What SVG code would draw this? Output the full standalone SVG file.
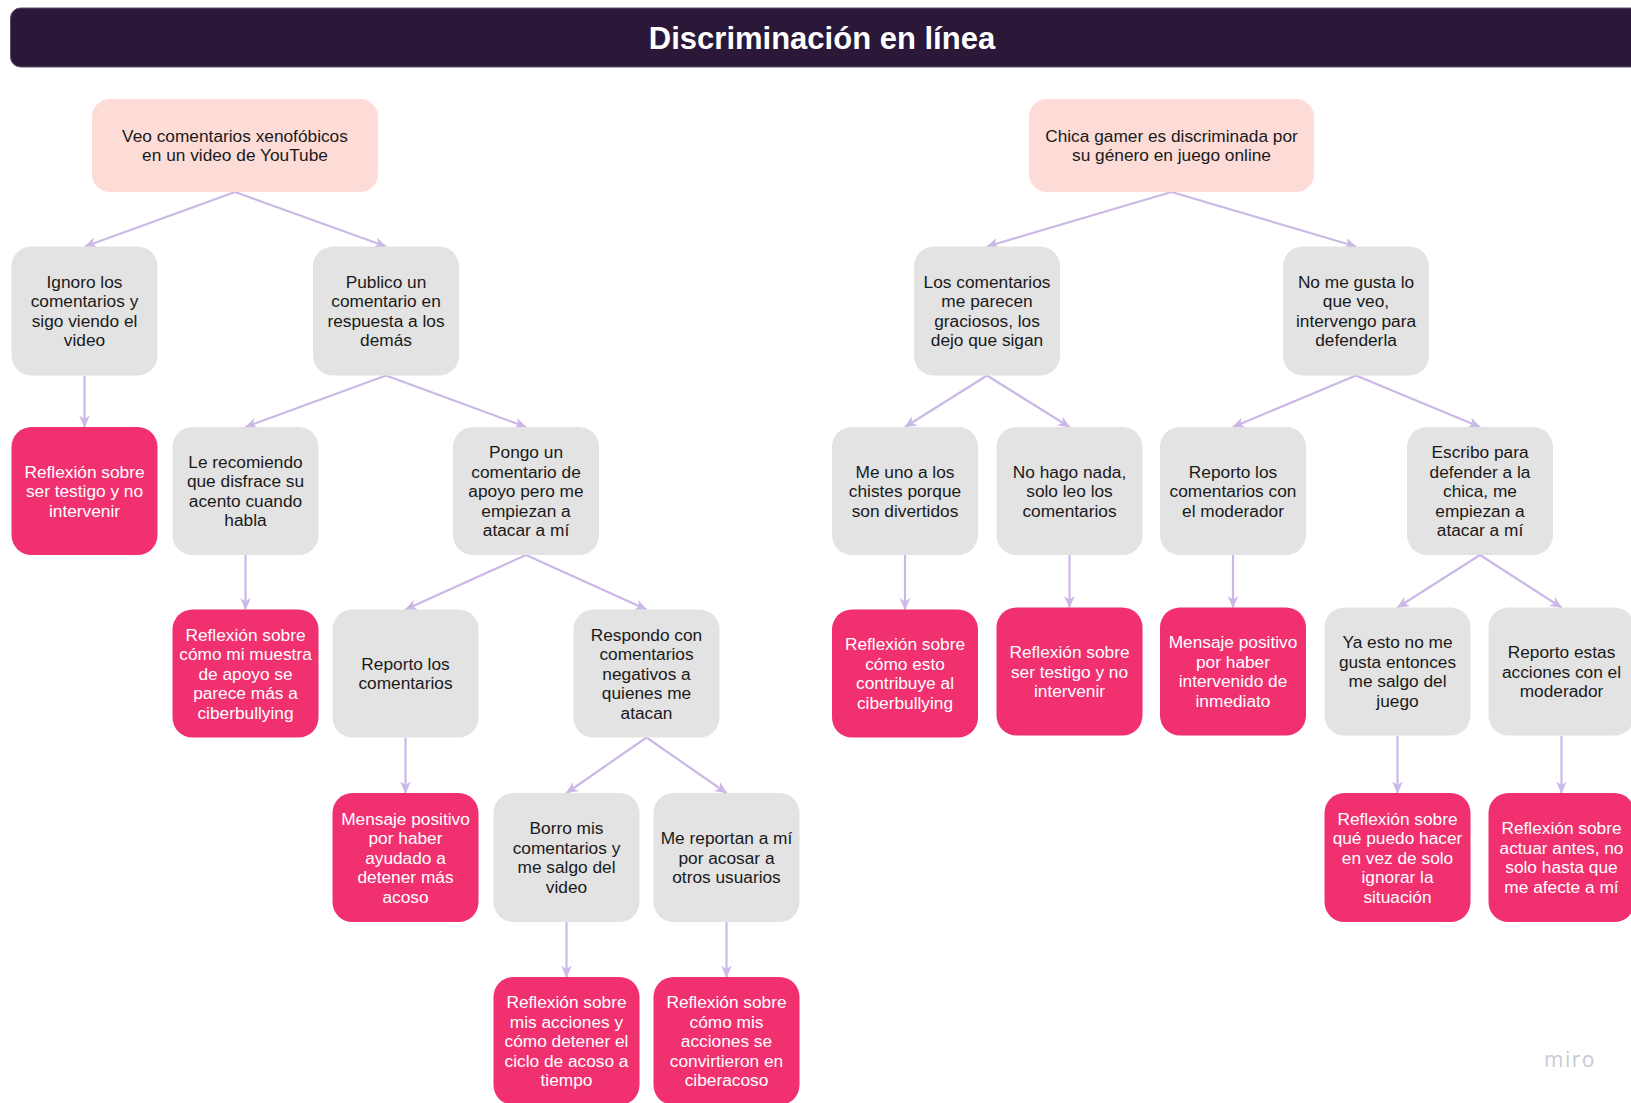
<svg xmlns="http://www.w3.org/2000/svg" width="1631" height="1103" viewBox="0 0 1631 1103">
  <style>
    .t { font-family: "Liberation Sans", Arial, Helvetica, sans-serif; font-size: 17.3px; text-anchor: middle; }
    .dark { fill: #1a1a1a; }
    .light { fill: #ffffff; }
    .root { fill: #fddcd8; }
    .opt { fill: #e3e3e3; }
    .out { fill: #f0306f; }
    .conn { stroke: #cbb8e6; stroke-width: 2.2; fill: none; marker-end: url(#arr); }
  </style>
  <defs>
    <marker id="arr" viewBox="0 0 10 10" refX="9.5" refY="5" markerWidth="12" markerHeight="12" markerUnits="userSpaceOnUse" orient="auto">
      <path d="M0,0.5 L10,5 L0,9.5 L2.8,5 z" fill="#cbb8e6"/>
    </marker>
  </defs>

  <rect width="1631" height="1103" fill="#ffffff"/>

  <!-- header bar -->
  <g id="title">
    <rect x="10.5" y="8" width="1630" height="59" rx="10" fill="#2b1839" stroke="#5e4d6e" stroke-width="1"/>
    <text x="822" y="49" font-family="'Liberation Sans', Arial, sans-serif" font-size="31" font-weight="bold" fill="#ffffff" text-anchor="middle">Discriminación en línea</text>
  </g>

  <!-- connectors -->
  <g id="connectors">
    <line class="conn" x1="235" y1="192" x2="85" y2="246.5"/>
    <line class="conn" x1="235" y1="192" x2="386" y2="246.5"/>
    <line class="conn" x1="1171.5" y1="192" x2="987" y2="246.5"/>
    <line class="conn" x1="1171.5" y1="192" x2="1356" y2="246.5"/>
    <line class="conn" x1="84.5" y1="375.5" x2="84.5" y2="427"/>
    <line class="conn" x1="386" y1="375.5" x2="245.5" y2="427"/>
    <line class="conn" x1="386" y1="375.5" x2="526" y2="427"/>
    <line class="conn" x1="987" y1="375.5" x2="905" y2="427"/>
    <line class="conn" x1="987" y1="375.5" x2="1069.5" y2="427"/>
    <line class="conn" x1="1356" y1="375.5" x2="1233" y2="427"/>
    <line class="conn" x1="1356" y1="375.5" x2="1480" y2="427"/>
    <line class="conn" x1="245.5" y1="555" x2="245.5" y2="609.5"/>
    <line class="conn" x1="526" y1="555" x2="405.5" y2="609.5"/>
    <line class="conn" x1="526" y1="555" x2="646.5" y2="609.5"/>
    <line class="conn" x1="905" y1="555" x2="905" y2="609.5"/>
    <line class="conn" x1="1069.5" y1="555" x2="1069.5" y2="607.5"/>
    <line class="conn" x1="1233" y1="555" x2="1233" y2="607.5"/>
    <line class="conn" x1="1480" y1="555" x2="1397.5" y2="607.5"/>
    <line class="conn" x1="1480" y1="555" x2="1561.5" y2="607.5"/>
    <line class="conn" x1="405.5" y1="737.5" x2="405.5" y2="793"/>
    <line class="conn" x1="646.5" y1="737.5" x2="566.5" y2="793"/>
    <line class="conn" x1="646.5" y1="737.5" x2="726.5" y2="793"/>
    <line class="conn" x1="1397.5" y1="735.5" x2="1397.5" y2="793"/>
    <line class="conn" x1="1561.5" y1="735.5" x2="1561.5" y2="793"/>
    <line class="conn" x1="566.5" y1="922" x2="566.5" y2="977"/>
    <line class="conn" x1="726.5" y1="922" x2="726.5" y2="977"/>
  </g>

  <!-- starting situations -->
  <g id="n-xenofobia">
    <rect class="root" x="92" y="99" width="286" height="93" rx="18"/>
    <text class="t dark" x="235"><tspan x="235" y="141.8">Veo comentarios xenofóbicos</tspan><tspan x="235" y="161.3">en un video de YouTube</tspan></text>
  </g>
  <g id="n-chica-gamer">
    <rect class="root" x="1029" y="99" width="285" height="93" rx="18"/>
    <text class="t dark" x="1171.5"><tspan x="1171.5" y="141.8">Chica gamer es discriminada por</tspan><tspan x="1171.5" y="161.3">su género en juego online</tspan></text>
  </g>

  <!-- second level -->
  <g id="n-ignoro">
    <rect class="opt" x="11.5" y="246.5" width="146" height="129" rx="20"/>
    <text class="t dark"><tspan x="84.5" y="287.8">Ignoro los</tspan><tspan x="84.5" y="307.3">comentarios y</tspan><tspan x="84.5" y="326.8">sigo viendo el</tspan><tspan x="84.5" y="346.3">video</tspan></text>
  </g>
  <g id="n-publico">
    <rect class="opt" x="313" y="246.5" width="146" height="129" rx="20"/>
    <text class="t dark"><tspan x="386" y="287.8">Publico un</tspan><tspan x="386" y="307.3">comentario en</tspan><tspan x="386" y="326.8">respuesta a los</tspan><tspan x="386" y="346.3">demás</tspan></text>
  </g>
  <g id="n-graciosos">
    <rect class="opt" x="914" y="246.5" width="146" height="129" rx="20"/>
    <text class="t dark"><tspan x="987" y="287.8">Los comentarios</tspan><tspan x="987" y="307.3">me parecen</tspan><tspan x="987" y="326.8">graciosos, los</tspan><tspan x="987" y="346.3">dejo que sigan</tspan></text>
  </g>
  <g id="n-intervengo">
    <rect class="opt" x="1283" y="246.5" width="146" height="129" rx="20"/>
    <text class="t dark"><tspan x="1356" y="287.8">No me gusta lo</tspan><tspan x="1356" y="307.3">que veo,</tspan><tspan x="1356" y="326.8">intervengo para</tspan><tspan x="1356" y="346.3">defenderla</tspan></text>
  </g>

  <!-- third level -->
  <g id="n-reflexion-testigo-1">
    <rect class="out" x="11.5" y="427" width="146" height="128" rx="20"/>
    <text class="t light"><tspan x="84.5" y="477.5">Reflexión sobre</tspan><tspan x="84.5" y="497">ser testigo y no</tspan><tspan x="84.5" y="516.5">intervenir</tspan></text>
  </g>
  <g id="n-recomiendo">
    <rect class="opt" x="172.5" y="427" width="146" height="128" rx="20"/>
    <text class="t dark"><tspan x="245.5" y="467.8">Le recomiendo</tspan><tspan x="245.5" y="487.3">que disfrace su</tspan><tspan x="245.5" y="506.8">acento cuando</tspan><tspan x="245.5" y="526.3">habla</tspan></text>
  </g>
  <g id="n-pongo-apoyo">
    <rect class="opt" x="453" y="427" width="146" height="128" rx="20"/>
    <text class="t dark"><tspan x="526" y="458">Pongo un</tspan><tspan x="526" y="477.5">comentario de</tspan><tspan x="526" y="497">apoyo pero me</tspan><tspan x="526" y="516.5">empiezan a</tspan><tspan x="526" y="536">atacar a mí</tspan></text>
  </g>
  <g id="n-me-uno">
    <rect class="opt" x="832" y="427" width="146" height="128" rx="20"/>
    <text class="t dark"><tspan x="905" y="477.5">Me uno a los</tspan><tspan x="905" y="497">chistes porque</tspan><tspan x="905" y="516.5">son divertidos</tspan></text>
  </g>
  <g id="n-no-hago">
    <rect class="opt" x="996.5" y="427" width="146" height="128" rx="20"/>
    <text class="t dark"><tspan x="1069.5" y="477.5">No hago nada,</tspan><tspan x="1069.5" y="497">solo leo los</tspan><tspan x="1069.5" y="516.5">comentarios</tspan></text>
  </g>
  <g id="n-reporto-moderador">
    <rect class="opt" x="1160" y="427" width="146" height="128" rx="20"/>
    <text class="t dark"><tspan x="1233" y="477.5">Reporto los</tspan><tspan x="1233" y="497">comentarios con</tspan><tspan x="1233" y="516.5">el moderador</tspan></text>
  </g>
  <g id="n-escribo">
    <rect class="opt" x="1407" y="427" width="146" height="128" rx="20"/>
    <text class="t dark"><tspan x="1480" y="458">Escribo para</tspan><tspan x="1480" y="477.5">defender a la</tspan><tspan x="1480" y="497">chica, me</tspan><tspan x="1480" y="516.5">empiezan a</tspan><tspan x="1480" y="536">atacar a mí</tspan></text>
  </g>

  <!-- fourth level -->
  <g id="n-reflexion-muestra">
    <rect class="out" x="172.5" y="609.5" width="146" height="128" rx="20"/>
    <text class="t light"><tspan x="245.5" y="640.5">Reflexión sobre</tspan><tspan x="245.5" y="660">cómo mi muestra</tspan><tspan x="245.5" y="679.5">de apoyo se</tspan><tspan x="245.5" y="699">parece más a</tspan><tspan x="245.5" y="718.5">ciberbullying</tspan></text>
  </g>
  <g id="n-reporto-comentarios">
    <rect class="opt" x="332.5" y="609.5" width="146" height="128" rx="20"/>
    <text class="t dark"><tspan x="405.5" y="669.8">Reporto los</tspan><tspan x="405.5" y="689.3">comentarios</tspan></text>
  </g>
  <g id="n-respondo">
    <rect class="opt" x="573.5" y="609.5" width="146" height="128" rx="20"/>
    <text class="t dark"><tspan x="646.5" y="640.5">Respondo con</tspan><tspan x="646.5" y="660">comentarios</tspan><tspan x="646.5" y="679.5">negativos a</tspan><tspan x="646.5" y="699">quienes me</tspan><tspan x="646.5" y="718.5">atacan</tspan></text>
  </g>
  <g id="n-reflexion-contribuye">
    <rect class="out" x="832" y="609.5" width="146" height="128" rx="20"/>
    <text class="t light"><tspan x="905" y="650.3">Reflexión sobre</tspan><tspan x="905" y="669.8">cómo esto</tspan><tspan x="905" y="689.3">contribuye al</tspan><tspan x="905" y="708.8">ciberbullying</tspan></text>
  </g>
  <g id="n-reflexion-testigo-2">
    <rect class="out" x="996.5" y="607.5" width="146" height="128" rx="20"/>
    <text class="t light"><tspan x="1069.5" y="658">Reflexión sobre</tspan><tspan x="1069.5" y="677.5">ser testigo y no</tspan><tspan x="1069.5" y="697">intervenir</tspan></text>
  </g>
  <g id="n-mensaje-inmediato">
    <rect class="out" x="1160" y="607.5" width="146" height="128" rx="20"/>
    <text class="t light"><tspan x="1233" y="648.3">Mensaje positivo</tspan><tspan x="1233" y="667.8">por haber</tspan><tspan x="1233" y="687.3">intervenido de</tspan><tspan x="1233" y="706.8">inmediato</tspan></text>
  </g>
  <g id="n-salgo-juego">
    <rect class="opt" x="1324.5" y="607.5" width="146" height="128" rx="20"/>
    <text class="t dark"><tspan x="1397.5" y="648.3">Ya esto no me</tspan><tspan x="1397.5" y="667.8">gusta entonces</tspan><tspan x="1397.5" y="687.3">me salgo del</tspan><tspan x="1397.5" y="706.8">juego</tspan></text>
  </g>
  <g id="n-reporto-acciones">
    <rect class="opt" x="1488.5" y="607.5" width="146" height="128" rx="20"/>
    <text class="t dark"><tspan x="1561.5" y="658">Reporto estas</tspan><tspan x="1561.5" y="677.5">acciones con el</tspan><tspan x="1561.5" y="697">moderador</tspan></text>
  </g>

  <!-- fifth level -->
  <g id="n-mensaje-acoso">
    <rect class="out" x="332.5" y="793" width="146" height="129" rx="20"/>
    <text class="t light"><tspan x="405.5" y="824.5">Mensaje positivo</tspan><tspan x="405.5" y="844">por haber</tspan><tspan x="405.5" y="863.5">ayudado a</tspan><tspan x="405.5" y="883">detener más</tspan><tspan x="405.5" y="902.5">acoso</tspan></text>
  </g>
  <g id="n-borro">
    <rect class="opt" x="493.5" y="793" width="146" height="129" rx="20"/>
    <text class="t dark"><tspan x="566.5" y="834.3">Borro mis</tspan><tspan x="566.5" y="853.8">comentarios y</tspan><tspan x="566.5" y="873.3">me salgo del</tspan><tspan x="566.5" y="892.8">video</tspan></text>
  </g>
  <g id="n-me-reportan">
    <rect class="opt" x="653.5" y="793" width="146" height="129" rx="20"/>
    <text class="t dark"><tspan x="726.5" y="844">Me reportan a mí</tspan><tspan x="726.5" y="863.5">por acosar a</tspan><tspan x="726.5" y="883">otros usuarios</tspan></text>
  </g>
  <g id="n-reflexion-ignorar">
    <rect class="out" x="1324.5" y="793" width="146" height="129" rx="20"/>
    <text class="t light"><tspan x="1397.5" y="824.5">Reflexión sobre</tspan><tspan x="1397.5" y="844">qué puedo hacer</tspan><tspan x="1397.5" y="863.5">en vez de solo</tspan><tspan x="1397.5" y="883">ignorar la</tspan><tspan x="1397.5" y="902.5">situación</tspan></text>
  </g>
  <g id="n-reflexion-antes">
    <rect class="out" x="1488.5" y="793" width="146" height="129" rx="20"/>
    <text class="t light"><tspan x="1561.5" y="834.3">Reflexión sobre</tspan><tspan x="1561.5" y="853.8">actuar antes, no</tspan><tspan x="1561.5" y="873.3">solo hasta que</tspan><tspan x="1561.5" y="892.8">me afecte a mí</tspan></text>
  </g>

  <!-- sixth level -->
  <g id="n-reflexion-ciclo">
    <rect class="out" x="493.5" y="977" width="146" height="128" rx="20"/>
    <text class="t light"><tspan x="566.5" y="1008">Reflexión sobre</tspan><tspan x="566.5" y="1027.5">mis acciones y</tspan><tspan x="566.5" y="1047">cómo detener el</tspan><tspan x="566.5" y="1066.5">ciclo de acoso a</tspan><tspan x="566.5" y="1086">tiempo</tspan></text>
  </g>
  <g id="n-reflexion-ciberacoso">
    <rect class="out" x="653.5" y="977" width="146" height="128" rx="20"/>
    <text class="t light"><tspan x="726.5" y="1008">Reflexión sobre</tspan><tspan x="726.5" y="1027.5">cómo mis</tspan><tspan x="726.5" y="1047">acciones se</tspan><tspan x="726.5" y="1066.5">convirtieron en</tspan><tspan x="726.5" y="1086">ciberacoso</tspan></text>
  </g>

  <!-- board watermark -->
  <text x="1570" y="1067" font-family="'Open Sans', 'Liberation Sans', sans-serif" font-size="21" letter-spacing="1.5" fill="#c9c8d6" text-anchor="middle">miro</text>
</svg>
